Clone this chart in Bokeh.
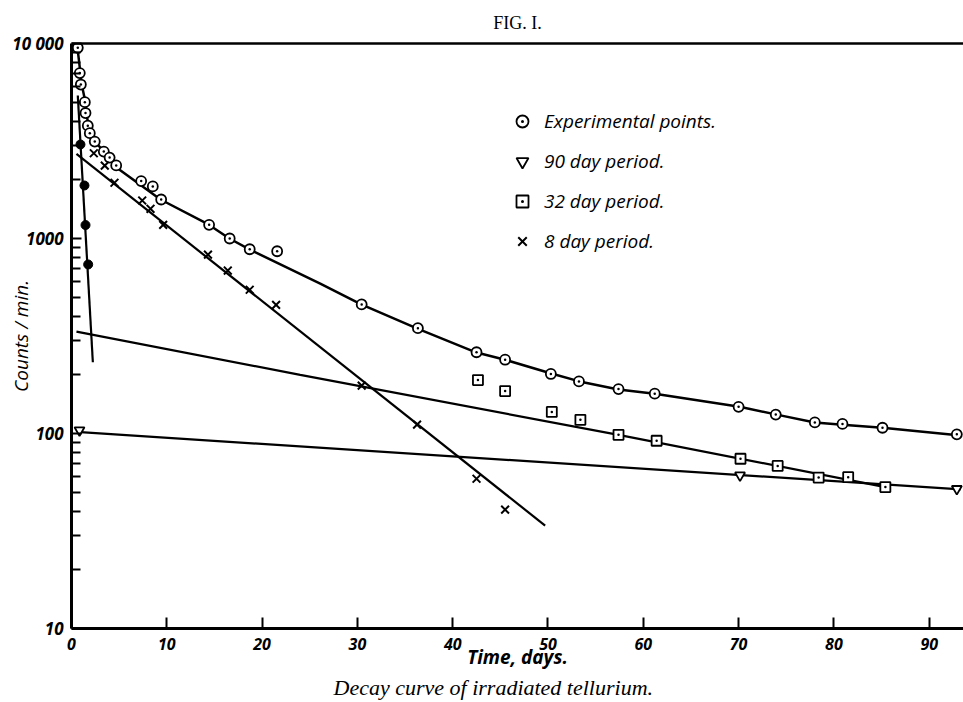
from bokeh.plotting import figure
from bokeh.models import (Range1d, FixedTicker, LinearAxis, Legend, LegendItem,
                          Title, NumeralTickFormatter)
from bokeh.embed import file_html
from bokeh.resources import INLINE

# ---------------- data ----------------
exp_days = [0.66, 0.87, 0.98, 1.40, 1.47, 1.71, 1.92, 2.44, 3.39, 4.0, 4.69,
            7.31, 8.53, 9.41, 14.44, 16.6, 18.7, 21.58, 30.45, 36.35, 42.5,
            45.5, 50.3, 53.25, 57.4, 61.2, 70.0, 73.9, 78.0, 80.9, 85.1, 92.9]
exp_counts = [9510, 7050, 6160, 5000, 4400, 3790, 3470, 3140, 2790, 2600, 2370,
              1970, 1850, 1585, 1175, 1000, 881, 860, 459, 347, 261,
              239, 202, 185, 169, 160, 137, 125, 114, 112, 107, 99]

curve_days = [0.63, 0.94, 1.05, 1.47, 1.57, 1.78, 1.89, 2.41, 3.46, 3.99, 4.72,
              9.34, 14.37, 16.57, 18.67, 26.1, 30.4, 36.3, 42.5, 45.5, 50.35,
              53.3, 57.4, 61.2, 70.1, 74.0, 78.0, 80.9, 85.1, 93.3]
curve_counts = [9460, 7020, 6240, 4980, 4430, 3750, 3450, 3140, 2790, 2600, 2310,
                1585, 1180, 1000, 879, 587, 459, 345, 260, 239, 203,
                185, 168, 160, 137, 125, 114, 111, 107, 97.7]

short_days = [0.94, 1.36, 1.47, 1.75]
short_counts = [3035, 1870, 1172, 736]
short_fit_days = [0.66, 2.24]
short_fit_counts = [5410, 232]

d8_days = [2.34, 3.49, 4.51, 7.42, 8.29, 9.62, 14.32, 16.4, 18.7, 21.47,
           30.45, 36.26, 42.5, 45.5]
d8_counts = [2737, 2366, 1932, 1566, 1420, 1175, 826, 685, 546, 457,
             176, 111, 58.6, 40.7]
d8_fit_days = [0.52, 49.7]
d8_fit_counts = [2717, 33.7]

d32_days = [42.65, 45.5, 50.4, 53.4, 57.4, 61.4, 70.2, 74.1, 78.4, 81.5, 85.4]
d32_counts = [188, 165, 129, 117.5, 98.4, 91.8, 74.2, 68.2, 59.4, 59.7, 53.1]
d32_fit_days = [0.52, 24.0, 57.4, 85.4]
d32_fit_counts = [333, 200, 98.4, 53.1]

d90_days = [0.84, 70.15, 92.9]
d90_counts = [104, 61, 52]
d90_fit_days = [0.94, 93.3]
d90_fit_counts = [101.6, 51.7]

x_ticks = [0, 10, 20, 30, 40, 50, 60, 70, 80, 90]
y_ticks = [10, 100, 1000, 10000]
y_tick_labels = ["10", "100", "1000", "10 000"]
y_minor = [m * d for d in (10, 100, 1000) for m in range(2, 10)]

legend_labels = ["Experimental points.", "90 day period.", "32 day period.", "8 day period."]

# ---------------- figure ----------------
SANS = "Open Sans"
SERIF = "Liberation Serif"
INK = "black"

p = figure(width=963, height=702, x_range=Range1d(0, 93.6), y_range=Range1d(10, 10000),
           y_axis_type="log", output_backend="svg", toolbar_location=None,
           min_border_left=71, min_border_right=0, min_border_top=43, min_border_bottom=74)
p.outline_line_color = None
p.grid.visible = False
p.background_fill_color = "white"
p.border_fill_color = "white"

xa = p.xaxis[0]
xa.ticker = FixedTicker(ticks=x_ticks)
xa.axis_line_width = 3
xa.axis_line_color = INK
xa.major_tick_in = 11
xa.major_tick_out = 0
xa.major_tick_line_width = 2
xa.major_tick_line_color = INK
xa.minor_tick_line_color = None
xa.major_label_standoff = 9
xa.major_label_text_font = SANS
xa.major_label_text_font_style = "bold italic"
xa.major_label_text_font_size = "16px"
xa.major_label_text_color = INK
xa.axis_label = "Time, days."
xa.axis_label_text_font = SANS
xa.axis_label_text_font_style = "bold italic"
xa.axis_label_text_font_size = "19px"
xa.axis_label_text_color = INK
xa.axis_label_standoff = -9

ya = p.yaxis[0]
ya.ticker = FixedTicker(ticks=y_ticks, minor_ticks=y_minor)
ya.formatter = NumeralTickFormatter(format="0")
ya.major_label_overrides = {float(t): lab for t, lab in zip(y_ticks, y_tick_labels)}
ya.axis_line_width = 3
ya.axis_line_color = INK
ya.major_tick_in = 10
ya.major_tick_out = 0
ya.minor_tick_in = 9
ya.minor_tick_out = 0
ya.major_tick_line_width = 2
ya.minor_tick_line_width = 2
ya.major_tick_line_color = INK
ya.minor_tick_line_color = INK
ya.major_label_standoff = 8
ya.major_label_text_font = SANS
ya.major_label_text_font_style = "bold italic"
ya.major_label_text_font_size = "17px"
ya.major_label_text_color = INK
ya.axis_label = "Counts / min."
ya.axis_label_text_font = SANS
ya.axis_label_text_font_style = "italic"
ya.axis_label_text_font_size = "19px"
ya.axis_label_text_color = INK
ya.axis_label_standoff = -25

top = LinearAxis(ticker=FixedTicker(ticks=[]), axis_line_width=2.5, axis_line_color=INK,
                 major_tick_line_color=None, minor_tick_line_color=None,
                 major_label_text_font_size="0px", major_label_standoff=0)
p.add_layout(top, "above")

p.add_layout(Title(text="FIG. I.", align="center", text_font=SERIF, text_font_style="normal",
                   text_font_size="18px", text_color=INK, standoff=21), "above")
p.add_layout(Title(text="Decay curve of irradiated tellurium.", align="left", offset=262,
                   text_font=SERIF, text_font_style="italic", text_font_size="22px",
                   text_color=INK, standoff=0), "below")

# lines
p.line(curve_days, curve_counts, line_width=2.5, line_color=INK)
p.line(short_fit_days, short_fit_counts, line_width=2.2, line_color=INK)
p.line(d8_fit_days, d8_fit_counts, line_width=2.2, line_color=INK)
p.line(d32_fit_days, d32_fit_counts, line_width=2.2, line_color=INK)
p.line(d90_fit_days, d90_fit_counts, line_width=2.2, line_color=INK)

# markers
r_exp = p.scatter(exp_days, exp_counts, marker="circle_dot", size=10, line_width=1.8,
                  line_color=INK, fill_color="white")
p.scatter(short_days, short_counts, marker="circle", size=9, line_color=INK, fill_color=INK)
r_8 = p.scatter(d8_days, d8_counts, marker="x", size=11, line_width=2, line_color=INK)
r_32 = p.scatter(d32_days, d32_counts, marker="square_dot", size=10, line_width=1.8,
                 line_color=INK, fill_color="white")
r_90 = p.scatter(d90_days, d90_counts, marker="inverted_triangle", size=10, line_width=1.8,
                 line_color=INK, fill_color="white")

legend = Legend(items=[LegendItem(label=legend_labels[0], renderers=[r_exp]),
                       LegendItem(label=legend_labels[1], renderers=[r_90]),
                       LegendItem(label=legend_labels[2], renderers=[r_32]),
                       LegendItem(label=legend_labels[3], renderers=[r_8])],
                location=(436, 372), orientation="vertical",
                glyph_width=30, glyph_height=30, spacing=10, padding=0, margin=0,
                border_line_color=None, background_fill_alpha=0,
                label_text_font=SANS, label_text_font_style="italic",
                label_text_font_size="19px", label_text_color=INK, label_standoff=7)
p.add_layout(legend)

open("out.html", "w").write(file_html(p, INLINE))
